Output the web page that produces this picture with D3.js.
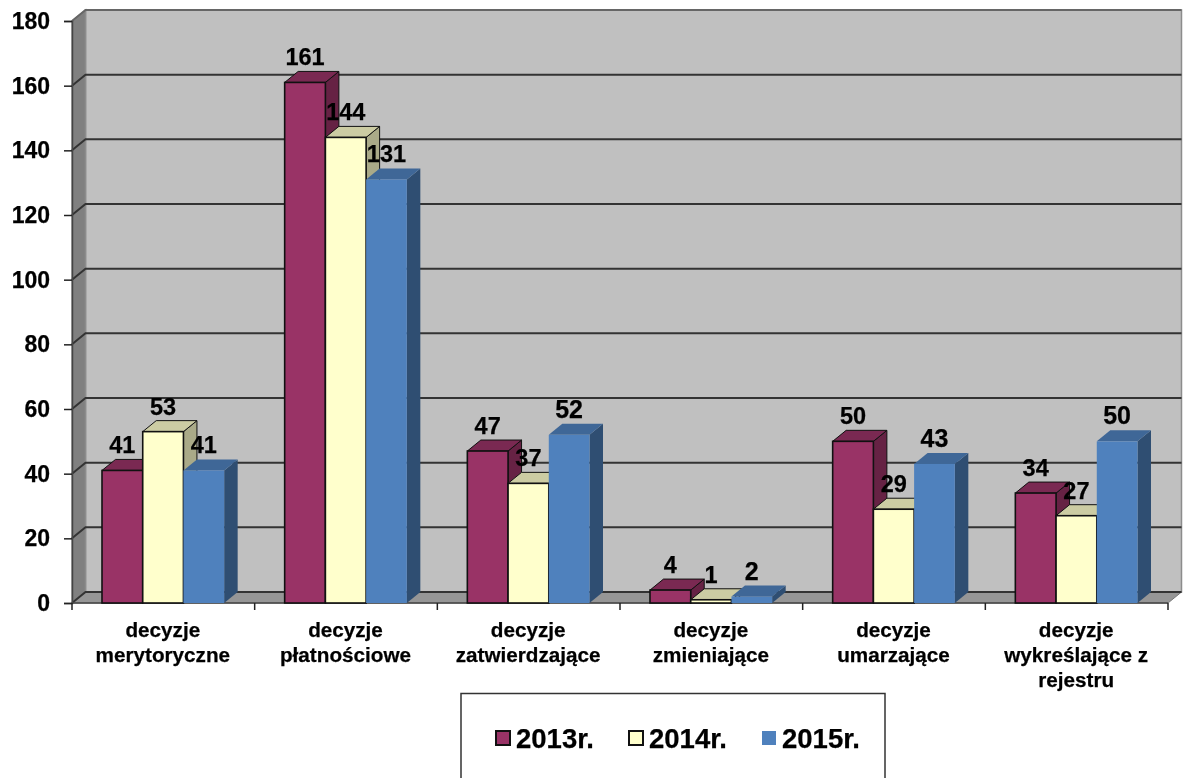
<!DOCTYPE html>
<html>
<head>
<meta charset="utf-8">
<script src="https://cdnjs.cloudflare.com/ajax/libs/d3/7.8.5/d3.min.js"></script>
<style>
  html, body { margin: 0; padding: 0; background: #fff; overflow: hidden; }
  svg { display: block; filter: blur(0.45px); }
  text { font-family: "Liberation Sans", Arial, sans-serif; font-weight: bold; fill: #000; stroke: #000; stroke-width: 0.25px; }
</style>
</head>
<body>
<svg width="1190" height="778"></svg>
<script>
var categories = ["merytoryczne", "platnosciowe", "zatwierdzajace", "zmieniajace", "umarzajace", "wykreslajace"];
var categoryLabels = [
  ["decyzje", "merytoryczne"],
  ["decyzje", "płatnościowe"],
  ["decyzje", "zatwierdzające"],
  ["decyzje", "zmieniające"],
  ["decyzje", "umarzające"],
  ["decyzje", "wykreślające z", "rejestru"]
];
var seriesNames = ["2013r.", "2014r.", "2015r."];
var values2013 = [41, 161, 47, 4, 50, 34];
var values2014 = [53, 144, 37, 1, 29, 27];
var values2015 = [41, 131, 52, 2, 43, 50];
var yTicks = [0, 20, 40, 60, 80, 100, 120, 140, 160, 180];

var seriesValues = [values2013, values2014, values2015];
var front = ["#993366", "#ffffcc", "#4f81bd"];
var topFace = ["#7a2952", "#cccca3", "#3f6797"];
var sideFace = ["#662244", "#aaaa88", "#2f4e72"];
var edge = ["#111", "#111", "none"];

var svg = d3.select("svg");

var x0 = 72, x1 = 1168, dx = 13.5, dy = 11;

var y = d3.scaleLinear().domain([0, 180]).range([603, 21]);
var xCat = d3.scaleBand().domain(categories).range([x0, x1]).paddingInner(0).paddingOuter(0);
var xBar = d3.scaleBand().domain(seriesNames).range([30, xCat.bandwidth() - 30.5]);

// walls and floor
svg.append("polygon")
    .attr("points", [[x0 + dx, y(180) - dy], [x1 + dx, y(180) - dy], [x1 + dx, y(0) - dy], [x0 + dx, y(0) - dy]].join(" "))
    .attr("fill", "#c0c0c0").attr("stroke", "#8c8c8c").attr("stroke-width", 1.5);
svg.append("polygon")
    .attr("points", [[x0, y(180)], [x0 + dx, y(180) - dy], [x0 + dx, y(0) - dy], [x0, y(0)]].join(" "))
    .attr("fill", "#808080").attr("stroke", "#8c8c8c").attr("stroke-width", 1.5);
svg.append("polygon")
    .attr("points", [[x0, y(0)], [x0 + dx, y(0) - dy], [x1 + dx, y(0) - dy], [x1, y(0)]].join(" "))
    .attr("fill", "#969696").attr("stroke", "#777").attr("stroke-width", 1);

// gridlines
svg.append("g").selectAll("path")
    .data(yTicks)
    .join("path")
      .attr("fill", "none")
      .attr("stroke", d => d == 180 ? "#666" : "#333")
      .attr("stroke-width", 2)
      .attr("d", d => `M${x0},${y(d)}L${x0 + dx},${y(d) - dy}L${x1 + dx},${y(d) - dy}`);

// axes
var yAxis = svg.append("g")
    .attr("transform", `translate(${x0},0)`)
    .call(d3.axisLeft(y).tickValues(yTicks).tickSize(8).tickPadding(14));
yAxis.select(".domain").attr("stroke", "#444").attr("stroke-width", 1.5);
yAxis.selectAll("line").attr("stroke", "#222").attr("stroke-width", 1.5);
yAxis.selectAll("text").attr("font-size", 23);

svg.append("line")
    .attr("x1", x0).attr("x2", x1).attr("y1", y(0)).attr("y2", y(0))
    .attr("stroke", "#444").attr("stroke-width", 1.5);
svg.append("g").selectAll("line")
    .data(categories.map(c => xCat(c)).concat([x1]))
    .join("line")
      .attr("x1", d => d).attr("x2", d => d)
      .attr("y1", y(0)).attr("y2", y(0) + 7)
      .attr("stroke", "#222").attr("stroke-width", 1.5);

// bars, left to right so that the next front face covers the side of the last
categories.forEach(function(cat, i) {
  seriesNames.forEach(function(name, s) {
    var v = seriesValues[s][i];
    var bx = xCat(cat) + xBar(name), bw = xBar.bandwidth();
    var top = y(v), bottom = y(0);
    var g = svg.append("g");
    g.append("polygon")
        .attr("points", [[bx + bw, top], [bx + bw + dx, top - dy], [bx + bw + dx, bottom - dy], [bx + bw, bottom]].join(" "))
        .attr("fill", sideFace[s]).attr("stroke", edge[s]).attr("stroke-width", 1);
    g.append("polygon")
        .attr("points", [[bx, top], [bx + dx, top - dy], [bx + bw + dx, top - dy], [bx + bw, top]].join(" "))
        .attr("fill", topFace[s]).attr("stroke", edge[s]).attr("stroke-width", 1);
    g.append("rect")
        .attr("x", bx).attr("y", top).attr("width", bw).attr("height", bottom - top)
        .attr("fill", front[s]).attr("stroke", edge[s]).attr("stroke-width", 1.6);
  });
});

// value labels
seriesNames.forEach(function(name, s) {
  svg.append("g").selectAll("text")
      .data(seriesValues[s])
      .join("text")
        .attr("x", (d, i) => xCat(categories[i]) + xBar(name) + xBar.bandwidth() / 2)
        .attr("y", d => y(d) - 17)
        .attr("text-anchor", "middle")
        .attr("font-size", (d, i) => s == 2 && i != 0 && i != 1 ? 25 : 23.5)
        .text(d => d);
});

// category labels
var catLabel = svg.append("g").selectAll("text")
    .data(categoryLabels)
    .join("text")
      .attr("text-anchor", "middle")
      .attr("font-size", 20.7);
catLabel.selectAll("tspan")
    .data((d, i) => d.map(line => ({line: line, i: i})))
    .join("tspan")
      .attr("x", d => xCat(categories[d.i]) + xCat.bandwidth() / 2 - 0.5)
      .attr("y", (d, j) => 637 + j * 25)
      .text(d => d.line);

// legend, cut off by the bottom of the picture
svg.append("path")
    .attr("d", "M461,778V693.5H885V778")
    .attr("fill", "#fff").attr("stroke", "#333").attr("stroke-width", 1.5);
var legendX = d3.scaleOrdinal().domain(seriesNames).range([495, 628, 761]);
var legend = svg.append("g").selectAll("g")
    .data(seriesNames)
    .join("g")
      .attr("transform", d => `translate(${legendX(d)},0)`);
legend.append("rect")
    .attr("x", 1).attr("y", 731).attr("width", 14).attr("height", 14)
    .attr("fill", (d, i) => front[i])
    .attr("stroke", (d, i) => edge[i])
    .attr("stroke-width", 2);
legend.append("text")
    .attr("x", 21).attr("y", 748)
    .attr("font-size", 27.5)
    .text(d => d);
</script>
</body>
</html>
